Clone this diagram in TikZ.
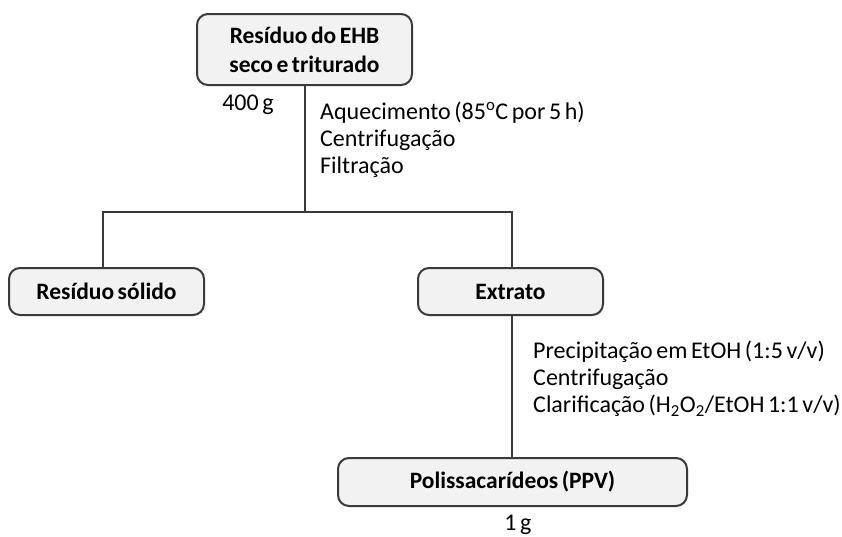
\documentclass[tikz,border=0pt]{standalone}
\usepackage{fontspec}
\setmainfont{Carlito}
\usepackage{tikz}
\usepackage{xcolor}
\usetikzlibrary{calc}

\definecolor{boxfill}{HTML}{F2F2F2}
\definecolor{boxdraw}{HTML}{3A3A3A}

\newcommand{\espacocurto}{\spaceskip=0.15em plus 0.05em minus 0.02em\relax}

\tikzset{
    etapa/.style={draw=boxdraw, line width=2pt, fill=boxfill, rounded corners=11pt,
        align=center, inner sep=0pt, font=\fontsize{23.5}{29}\selectfont\bfseries\espacocurto},
    ligacao/.style={draw=boxdraw, line width=2pt},
    nota/.style={align=left, inner sep=0pt, font=\fontsize{24}{27}\selectfont\espacocurto},
}

\begin{document}
\begin{tikzpicture}[x=1pt, y=-1pt]
    \useasboundingbox (0,0) rectangle (842,536);

    % caixas
    \node[etapa, minimum width=215pt, minimum height=71pt] (bruto) at (304.5,49.5)
        {Resíduo do EHB\\seco e triturado};
    \node[etapa, minimum width=195pt, minimum height=47pt] (solido) at (106.5,291.5)
        {Resíduo sólido};
    \node[etapa, minimum width=185pt, minimum height=47pt] (extrato) at (510.5,291.5)
        {Extrato};
    \node[etapa, minimum width=349pt, minimum height=48pt] (ppv) at (512.5,482)
        {Polissacarídeos (PPV)};

    % ramificação
    \coordinate (div) at (305,212);
    \coordinate (divE) at (103,212);
    \coordinate (divD) at (512,212);
    \draw[ligacao] (bruto.south -| div) -- (div);
    \draw[ligacao] (solido.north -| divE) -- (divE) -- (divD) -- (extrato.north -| divD);
    \draw[ligacao] (extrato.south -| divD) -- (ppv.north -| divD);

    % textos
    \node[nota] (massa1) at (248,105) {400 g};
    \node[nota, anchor=west] (passos1) at (320,140)
        {Aquecimento (85\textsuperscript{o}C por 5 h)\\Centrifugação\\Filtração};
    \node[nota, anchor=west] (passos2) at (533,379)
        {Precipitação em EtOH (1:5 v/v)\\Centrifugação\\Clarificação (H\textsubscript{2}O\textsubscript{2}/EtOH 1:1 v/v)};
    \node[nota] (massa2) at (518,525) {1 g};
\end{tikzpicture}
\end{document}
